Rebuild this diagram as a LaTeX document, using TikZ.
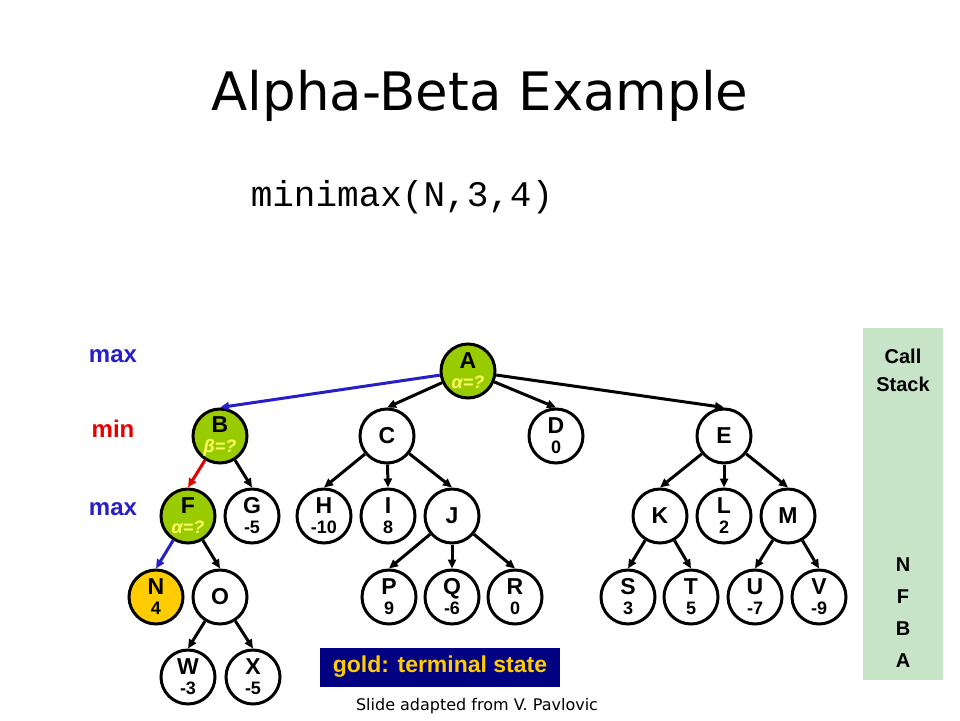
\documentclass[tikz,border=0pt]{standalone}
\usepackage{fontspec}
\setmainfont{DejaVu Sans}
\setsansfont{Liberation Sans}
\setmonofont{Liberation Mono}
\usepackage{tikz}
\usetikzlibrary{arrows.meta}
\definecolor{nodegreen}{RGB}{153,204,0}
\definecolor{termgold}{RGB}{255,204,0}
\definecolor{boundyellow}{RGB}{255,255,102}
\definecolor{maxblue}{RGB}{40,30,200}
\definecolor{minred}{RGB}{230,0,0}
\definecolor{stackgreen}{RGB}{200,228,200}
\definecolor{boxnavy}{RGB}{0,0,128}
\tikzstyle{state}=[
        circle,
        draw,
        line width=3pt,
        fill=white,
        minimum size=54pt,
        inner sep=0pt,
        align=center,
        font=\sffamily\bfseries\fontsize{23}{24}\selectfont
]
\tikzstyle{edge}=[
        line width=3pt,
        -{Triangle[length=9pt,width=8pt]}
]
\tikzstyle{level}=[
        font=\sffamily\bfseries\fontsize{24}{26}\selectfont
]
\tikzstyle{stackentry}=[
        font=\sffamily\bfseries\fontsize{20}{22}\selectfont
]
\newcommand{\val}[1]{\\[-4pt]{\fontsize{18}{18}\selectfont #1}}
\newcommand{\bnd}[1]{\\[-4pt]{\fontsize{18}{18}\selectfont\itshape\color{boundyellow}#1}}

\begin{document}
\begin{tikzpicture}[x=1pt,y=-1pt]
                    \useasboundingbox (0,0) rectangle (960,720);

                    \node (title) at (480,96) {\fontsize{53}{55}\selectfont Alpha-Beta Example};
                    \node (call) at (402,197) {\ttfamily\fontsize{36}{38}\selectfont minimax(N,3,4)};

                    % level labels
                    \node[level, text=maxblue] (lmax1) at (113,356) {max};
                    \node[level, text=minred] (lmin) at (113,429) {min};
                    \node[level, text=maxblue] (lmax2) at (113,509) {max};

                    % call stack
                    \fill[stackgreen] (863,328) rectangle (943,680);
                    \node[stackentry, align=center] (stack) at (903,370) {Call\\[6pt]Stack};
                    \foreach \n/\y in {N/565,F/597,B/629,A/661} {
                        \node[stackentry] (s\n) at (903,\y) {\n};
                    }

                    % tree
                    \node[state, fill=nodegreen] (A) at (468,371) {A\bnd{α=?}};
                    \node[state, fill=nodegreen] (B) at (220,436) {B\bnd{β=?}};
                    \node[state] (C) at (387,436) {C};
                    \node[state] (D) at (556,436) {D\val{0}};
                    \node[state] (E) at (724,436) {E};

                    \node[state, fill=nodegreen] (F) at (188,516) {F\bnd{α=?}};
                    \node[state] (G) at (252,516) {G\val{-5}};
                    \node[state] (H) at (324,516) {H\val{-10}};
                    \node[state] (I) at (388,516) {I\val{8}};
                    \node[state] (J) at (452,516) {J};
                    \node[state] (K) at (660,516) {K};
                    \node[state] (L) at (724,516) {L\val{2}};
                    \node[state] (M) at (788,516) {M};

                    \node[state, fill=termgold] (N) at (156,597) {N\val{4}};
                    \node[state] (O) at (220,597) {O};
                    \node[state] (P) at (389,597) {P\val{9}};
                    \node[state] (Q) at (452,597) {Q\val{-6}};
                    \node[state] (R) at (515,597) {R\val{0}};
                    \node[state] (S) at (628,597) {S\val{3}};
                    \node[state] (T) at (691,597) {T\val{5}};
                    \node[state] (U) at (755,597) {U\val{-7}};
                    \node[state] (V) at (819,597) {V\val{-9}};

                    \node[state] (W) at (188,677) {W\val{-3}};
                    \node[state] (X) at (253,677) {X\val{-5}};

                    \foreach \p/\c in {A/C,A/D,A/E,B/G,C/H,C/I,C/J,E/K,E/L,E/M,
                                       F/O,J/P,J/Q,J/R,K/S,K/T,M/U,M/V,O/W,O/X} {
                        \draw[edge] (\p) -- (\c.north);
                    }

                    \draw[edge, maxblue] (A) -- (B.north);
                    \draw[edge, minred] (B) -- (F.north);
                    \draw[edge, maxblue] (F) -- (N.north);

                    % legend
                    \node[fill=boxnavy, text=termgold, minimum width=240pt, minimum height=39pt,
                          font=\sffamily\bfseries\fontsize{23}{25}\selectfont] (legend) at (440,667) {gold: terminal state};
                    \node (credit) at (477,706) {\fontsize{16}{18}\selectfont Slide adapted from V. Pavlovic};
                \end{tikzpicture}
\end{document}
